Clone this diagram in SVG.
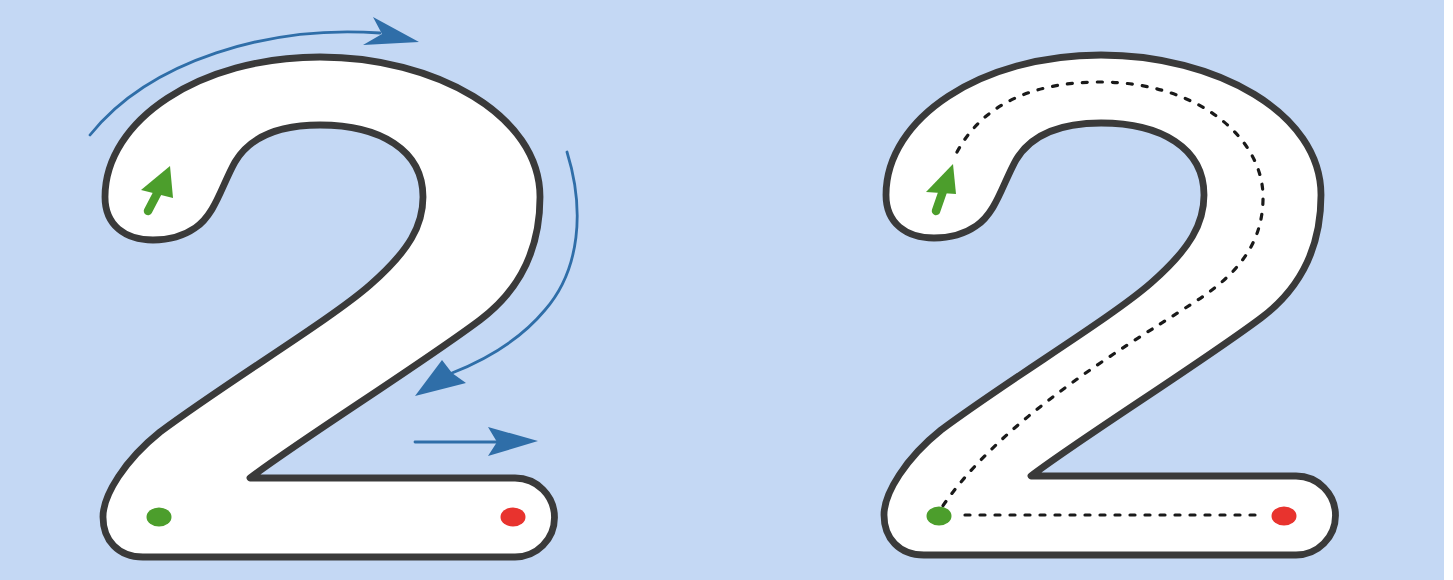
<svg xmlns="http://www.w3.org/2000/svg" width="1453" height="580" viewBox="0 0 1453 580">
<style>
.outline{fill:#ffffff;stroke:#3a3a3a;stroke-width:6.8;stroke-linejoin:round}
.blue{fill:none;stroke:#2f6ea8;stroke-width:2.8;stroke-linecap:round}
.bluehead{fill:#2f6ea8}
.green{fill:#4c9e2c}
.greenshaft{stroke:#4c9e2c;stroke-width:8.5;stroke-linecap:round}
.red{fill:#e8332e}
.dash{fill:none;stroke:#1a1a1a;stroke-width:3.2;stroke-dasharray:5 10;stroke-linecap:round}
</style>
<defs>
<path id="two-shape" d="M 153 240 C 125 240, 105 225, 105 197 C 105 120, 200 57, 320 57 C 435 57, 540 115, 540 197 C 540 250, 520 290, 480 320 C 420 365, 300 440, 250 478 L 515 478 A 39.5 39.5 0 0 1 515 557 L 143 557 C 118 557, 103 540, 103 517 C 103 495, 125 460, 160 432 C 230 380, 330 320, 370 285 C 410 250, 423 225, 423 197 C 423 150, 380 125, 320 125 C 275 125, 248 140, 235 162 C 222 185, 215 215, 195 228 C 182 237, 168 240, 153 240 Z"/>
</defs>
<rect x="0" y="0" width="1453" height="580" fill="#ffffff"/>
<rect x="0" y="0" width="1444" height="580" fill="#c4d8f4"/>
<g id="left-digit">
<use href="#two-shape" class="outline"/>
<line class="greenshaft" x1="160" y1="188" x2="148" y2="211"/>
<polygon class="green" points="170,166 173,198 141,190"/>
<ellipse class="green" cx="159" cy="517" rx="12.5" ry="9.5"/>
<ellipse class="red" cx="513" cy="517" rx="12.5" ry="9.5"/>
</g>
<g id="right-digit">
<use href="#two-shape" class="outline" transform="translate(781,-2)"/>
<path class="dash" d="M 957 152 C 985 100, 1040 82, 1100 82 C 1200 82, 1265 140, 1263 200 C 1262 250, 1230 280, 1190 305 C 1120 350, 1000 420, 940 510"/>
<path class="dash" d="M 965 515 L 1262 515"/>
<line class="greenshaft" x1="944" y1="188" x2="936" y2="211"/>
<polygon class="green" points="953,164 956,194 926,192"/>
<ellipse class="green" cx="939" cy="516" rx="12.5" ry="9.5"/>
<ellipse class="red" cx="1284" cy="516" rx="12.5" ry="9.5"/>
</g>
<g id="connectors">
<path class="blue" d="M 90 135 C 150 60, 270 25, 380 33"/>
<polygon class="bluehead" points="419,42 373,17 382,34 363,45"/>
<path class="blue" d="M 567 152 C 585 210, 580 270, 545 310 C 520 340, 485 360, 452 373"/>
<polygon class="bluehead" points="415,396 442,360 452,373 466,383"/>
<path class="blue" d="M 415 442 L 500 442"/>
<polygon class="bluehead" points="538,441 488,427 497,442 488,456"/>
</g>
</svg>
